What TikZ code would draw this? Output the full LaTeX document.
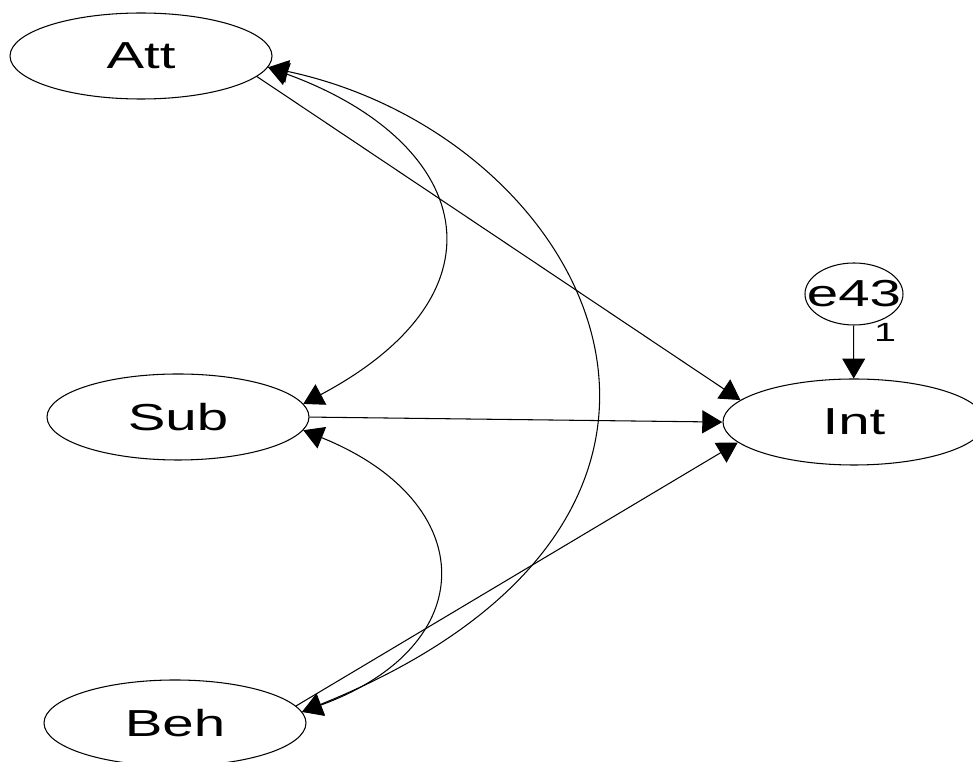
\documentclass[tikz,border=0pt]{standalone}
\usepackage{fontspec}
\usetikzlibrary{shapes.geometric, arrows.meta}
\newfontfamily\amosfont[FakeStretch=1.5]{Liberation Sans}
\tikzstyle{latentStyle}=[shape = ellipse, minimum width = 5.24cm, minimum height = 1.72cm, inner sep = 0pt, draw, line width = 0.6pt, font = \amosfont\fontsize{21.4}{24}\selectfont]
\tikzstyle{errorStyle}=[shape = ellipse, minimum width = 1.96cm, minimum height = 1.24cm, inner sep = 0pt, draw, line width = 0.6pt, font = \amosfont\fontsize{21.4}{24}\selectfont]

\begin{document}
\begin{tikzpicture}[scale = 20]
\tikzstyle{pathStyle} = [line width = 0.6pt, -{Triangle[length = 0.4cm, width = 0.46cm]}]
\tikzstyle{covStyle} = [line width = 0.6pt, {Triangle[length = 0.4cm, width = 0.46cm]}-{Triangle[length = 0.4cm, width = 0.46cm]}]
\tikzstyle{weightStyle} = [font = \amosfont\fontsize{15}{17}\selectfont, inner sep = 0pt, anchor = west]
\useasboundingbox (0, 0) rectangle (0.973, 0.762);
\node[latentStyle] (v0) at (0.141, 0.706) {Att};
\node[latentStyle] (v1) at (0.178, 0.345) {Sub};
\node[latentStyle] (v2) at (0.175, 0.039) {Beh};
\node[latentStyle] (v3) at (0.854, 0.340) {Int};
\node[errorStyle] (v4) at (0.854, 0.468) {\makebox[0pt]{e43}};
\draw[pathStyle] (v0.-10) -- (v3.169);
\draw[pathStyle] (v1.east) -- (v3.west);
\draw[pathStyle] (v2.8) -- (v3.190);
\draw[pathStyle] (v4) -- node[weightStyle, pos = 0.13, xshift = 0.4cm] {1} (v3);
% distances are scaled with the picture (x20)
\draw[covStyle] (v0.-5) to[out = -20, in = 28, out distance = 0.215cm, in distance = 0.24cm] (v1.6);
\draw[covStyle] (v0.-5) to[out = -12, in = 22, out distance = 0.33cm, in distance = 0.525cm] (v2.5);
\draw[covStyle] (v1.-6) to[out = -22, in = 20, out distance = 0.192cm, in distance = 0.192cm] (v2.5);
\end{tikzpicture}
\end{document}
